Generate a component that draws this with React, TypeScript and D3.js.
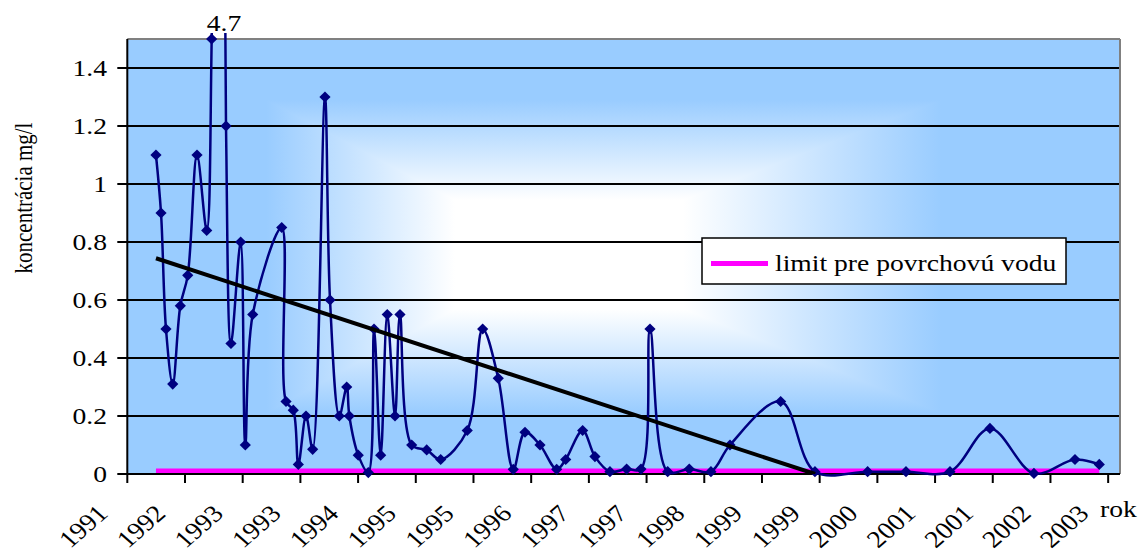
import React from 'react';
import * as d3 from 'd3';

// ---- data (decimal year, concentration mg/l) ----
const sampleYears = [
  1991.990, 1992.050, 1992.109, 1992.189, 1992.279, 1992.367, 1992.477, 1992.592, 1992.651, 1992.738,
  1992.821, 1992.880, 1992.995, 1993.050, 1993.138, 1993.482, 1993.533, 1993.619, 1993.679, 1993.770,
  1993.849, 1993.995, 1994.055, 1994.165, 1994.253, 1994.284, 1994.390, 1994.509, 1994.577, 1994.656,
  1994.734, 1994.826, 1994.885, 1995.024, 1995.202, 1995.368, 1995.683, 1995.866, 1996.051, 1996.229,
  1996.368, 1996.546, 1996.744, 1996.851, 1997.052, 1997.198, 1997.376, 1997.574, 1997.744, 1997.851,
  1998.061, 1998.317, 1998.574, 1998.800, 1999.401, 1999.808, 2000.433, 2000.888, 2001.410, 2001.884,
  2002.406, 2002.893, 2003.181,
];
const sampleValues = [
  1.10, 0.90, 0.50, 0.31, 0.58, 0.685, 1.10, 0.84, 1.50, 4.70,
  1.20, 0.45, 0.80, 0.10, 0.55, 0.85, 0.25, 0.22, 0.033, 0.20,
  0.085, 1.30, 0.60, 0.20, 0.30, 0.20, 0.065, 0.005, 0.50, 0.065,
  0.55, 0.20, 0.55, 0.10, 0.083, 0.05, 0.15, 0.50, 0.33, 0.016,
  0.144, 0.10, 0.016, 0.05, 0.15, 0.06, 0.008, 0.017, 0.017, 0.50,
  0.008, 0.017, 0.008, 0.10, 0.25, 0.008, 0.008, 0.008, 0.008, 0.157,
  0.002, 0.05, 0.033,
];
const limitValue = 0.01;
const trendYears = [1991.99, 1999.81];
const trendValues = [0.744, 0];

const axisStart = 1991.65;
const tickStep = 0.6845;
const axisEnd = 2003.427;
const xTickLabels = ['1991', '1992', '1993', '1993', '1994', '1995', '1995', '1996', '1997', '1997',
  '1998', '1999', '1999', '2000', '2001', '2001', '2002', '2003'];
const yTicks = [0, 0.2, 0.4, 0.6, 0.8, 1, 1.2, 1.4];
const yTickLabels = ['0', '0.2', '0.4', '0.6', '0.8', '1', '1.2', '1.4'];
const yMax = 1.5;
const peakLabel = '4.7';
const yTitle = 'koncentrácia mg/l';
const xTitle = 'rok';
const legendLabel = 'limit pre povrchovú vodu';

// ---- layout ----
const W = 1140, H = 553;
const L = 127.3, R = 1120, T = 39, B = 474;
const FONT = "'Liberation Serif', 'Times New Roman', serif";
const SX = 1.15; // horizontal stretch of glyphs in the reference
const BLUE = '#99CCFF';
const NAVY = '#000080';

function SText({ x, y, rotate = 0, anchor = 'start', size = 24, dy, children }: any) {
  return (
    <g transform={`translate(${x},${y}) scale(${SX},1) rotate(${rotate})`}>
      <text x={0} y={0} dy={dy} textAnchor={anchor} fontFamily={FONT} fontSize={size} fill="#000">
        {children}
      </text>
    </g>
  );
}

export default function App() {
  const x = d3.scaleLinear().domain([axisStart, axisEnd]).range([L, R]);
  const y = d3.scaleLinear().domain([0, yMax]).range([B, T]);

  const pts: [number, number][] = sampleYears.map((t, i) => [t, sampleValues[i]]);
  const line = d3.line<[number, number]>()
    .x(d => x(d[0]))
    .y(d => y(d[1]))
    .curve(d3.curveCatmullRom.alpha(0.5));
  const seriesPath = line(pts) || '';

  const firstYear = sampleYears[0];
  const lastYear = sampleYears[sampleYears.length - 1];

  const tickVals = xTickLabels.map((_, i) => axisStart + i * tickStep);

  const diamond = (cx: number, cy: number, r = 5.6) =>
    `M${cx},${cy - r}L${cx + r},${cy}L${cx},${cy + r}L${cx - r},${cy}Z`;

  const peakIndex = sampleValues.findIndex(v => v > yMax);
  const afterPeak = pts[peakIndex + 1];

  return (
    <svg width={W} height={H} style={{ position: 'absolute', left: 0, top: 0, background: '#fff' }}>
      <defs>
        <linearGradient id="gh" x1="0" y1="0" x2="1" y2="0">
          <stop offset="0" stopColor={BLUE} />
          <stop offset="0.14" stopColor={BLUE} />
          <stop offset="0.33" stopColor="#ffffff" />
          <stop offset="0.56" stopColor="#ffffff" />
          <stop offset="0.82" stopColor={BLUE} />
          <stop offset="1" stopColor={BLUE} />
        </linearGradient>
        <linearGradient id="gv" x1="0" y1="0" x2="0" y2="1">
          <stop offset="0" stopColor={BLUE} />
          <stop offset="0.14" stopColor={BLUE} />
          <stop offset="0.37" stopColor="#ffffff" />
          <stop offset="0.62" stopColor="#ffffff" />
          <stop offset="0.86" stopColor={BLUE} />
          <stop offset="1" stopColor={BLUE} />
        </linearGradient>
        <clipPath id="plotClip">
          <rect x={L} y={T - 6} width={R - L} height={B - T + 9} />
        </clipPath>
        <clipPath id="trendClip">
          <rect x={L} y={T} width={R - L} height={B - T} />
        </clipPath>
      </defs>

      {/* plot background: rectangular centre gradient */}
      <g style={{ isolation: 'isolate' }}>
        <rect x={L} y={T} width={R - L} height={B - T} fill="url(#gh)" />
        <rect x={L} y={T} width={R - L} height={B - T} fill="url(#gv)" style={{ mixBlendMode: 'darken' }} />
      </g>

      {/* gridlines */}
      {yTicks.filter(v => v > 0).map(v => (
        <line key={v} x1={L} x2={R} y1={y(v)} y2={y(v)} stroke="#000" strokeWidth={2} />
      ))}
      {/* plot border top/right */}
      <line x1={L} x2={R} y1={T} y2={T} stroke="#808080" strokeWidth={2} />
      <line x1={R} x2={R} y1={T} y2={B} stroke="#808080" strokeWidth={2} />

      {/* limit line */}
      <line x1={x(firstYear)} x2={x(lastYear)} y1={y(limitValue)} y2={y(limitValue)} stroke="#FF00FF" strokeWidth={5} />

      {/* axes */}
      <line x1={L} x2={L} y1={T} y2={B} stroke="#000" strokeWidth={2} />
      <line x1={L} x2={R} y1={B} y2={B} stroke="#000" strokeWidth={2} />
      {yTicks.map(v => (
        <line key={'yt' + v} x1={L - 10} x2={L} y1={y(v)} y2={y(v)} stroke="#000" strokeWidth={2} />
      ))}
      {tickVals.map((t, i) => (
        <line key={'xt' + i} x1={x(t)} x2={x(t)} y1={B} y2={B + 9} stroke="#000" strokeWidth={2} />
      ))}

      {/* data series */}
      <g clipPath="url(#plotClip)">
        <path d={seriesPath} fill="none" stroke={NAVY} strokeWidth={2.5} />
      </g>
      {pts.filter(p => p[1] <= yMax).map((p, i) => (
        <path key={'m' + i} d={diamond(x(p[0]), y(p[1]))} fill={NAVY} />
      ))}

      {/* trend line */}
      <g clipPath="url(#trendClip)">
        <line x1={x(trendYears[0])} y1={y(trendValues[0])} x2={x(trendYears[1])} y2={y(trendValues[1])}
          stroke="#000" strokeWidth={4} />
      </g>

      {/* off-scale annotation */}
      {afterPeak && (
        <SText x={x(afterPeak[0]) - 2} y={31} anchor="middle">{peakLabel}</SText>
      )}

      {/* y tick labels */}
      {yTicks.map((v, i) => (
        <SText key={'yl' + v} x={107} y={y(v)} anchor="end" dy="0.35em">{yTickLabels[i]}</SText>
      ))}
      {/* x tick labels */}
      {tickVals.map((t, i) => (
        <SText key={'xl' + i} x={x(t) - 18} y={515} anchor="end" rotate={-45}>{xTickLabels[i]}</SText>
      ))}
      <SText x={1100} y={517}>{xTitle}</SText>
      <SText x={32} y={198} anchor="middle" rotate={-90} size={21}>{yTitle}</SText>

      {/* legend */}
      <rect x={702} y={238} width={364} height={46} fill="#fff" stroke="#000" strokeWidth={1.5} />
      <line x1={711} x2={768} y1={263.5} y2={263.5} stroke="#FF00FF" strokeWidth={5} />
      <SText x={775} y={271}>{legendLabel}</SText>
    </svg>
  );
}
